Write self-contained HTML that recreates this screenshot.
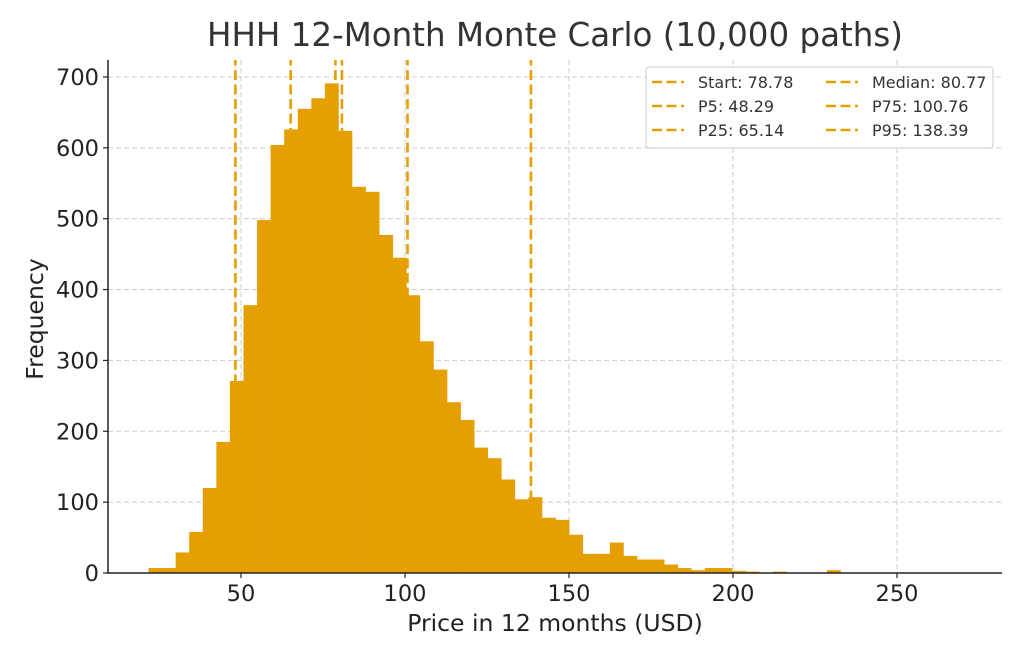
<!DOCTYPE html>
<html><head><meta charset="utf-8"><style>
body{margin:0;background:#fff;}
svg text{font-family:"DejaVu Sans","Liberation Sans",sans-serif;}
</style></head><body>
<svg id="chart" width="1024" height="658" viewBox="0 0 1024 658" xmlns="http://www.w3.org/2000/svg">
<g id="grid"></g>
<g id="bars"></g>
<g id="vlines"></g>
<g id="axes"></g>
<text x="555" y="46" font-size="32.5" fill="#333" text-anchor="middle">HHH 12-Month Monte Carlo (10,000 paths)</text>
<text x="555" y="631" font-size="23.5" fill="#222" text-anchor="middle">Price in 12 months (USD)</text>
<text x="43" y="319" font-size="23.5" fill="#222" text-anchor="middle" transform="rotate(-90 43 319)">Frequency</text>
<g id="legend"></g>
</svg>
<script>
const binStart = 21.8;
const binWidth = 4.137;
const counts = [7,7,29,58,120,185,271,378,498,604,626,655,670,691,624,545,538,477,445,392,327,287,241,216,177,162,132,104,107,78,75,54,27,27,43,24,19,19,12,7,4,7,7,3,2,0,2,0,0,0,4];
const xTicks = [50,100,150,200,250];
const yTicks = [0,100,200,300,400,500,600,700];
const lineLabels = ["Start: 78.78","Median: 80.77","P5: 48.29","P75: 100.76","P25: 65.14","P95: 138.39"];
const lineValues = [78.78,80.77,48.29,100.76,65.14,138.39];

const NS="http://www.w3.org/2000/svg";
const L=108,R=1002,T=60,B=573;
const xs=v=>77+v*3.28;
const ys=v=>573-v*0.7086;
function mk(tag,attrs,parent){const e=document.createElementNS(NS,tag);for(const k in attrs)e.setAttribute(k,attrs[k]);document.getElementById(parent).appendChild(e);return e;}
const C="#E69F00";
xTicks.forEach(t=>{const e=mk('line',{x1:xs(t),x2:xs(t),y1:T,y2:B,stroke:'#ccc','stroke-dasharray':'5,3','stroke-width':1},'grid');

});
yTicks.forEach(t=>{const e=mk('line',{x1:L,x2:R,y1:ys(t),y2:ys(t),stroke:'#ccc','stroke-dasharray':'5,3','stroke-width':1},'grid');

});
counts.forEach((c,i)=>{if(!c)return;const x0=xs(binStart+i*binWidth),x1=xs(binStart+(i+1)*binWidth);
const e=mk('rect',{x:x0,y:ys(c),width:x1-x0+0.3,height:B-ys(c),fill:C},'bars');

});
lineValues.forEach(v=>{const e=mk('line',{x1:xs(v),x2:xs(v),y1:B,y2:T,stroke:C,'stroke-width':2.6,'stroke-dasharray':'10,4.5'},'vlines');

});
let e=mk('path',{d:`M${L},${T}V${B}H${R}`,fill:'none',stroke:'#222','stroke-width':1.5},'axes');


xTicks.forEach(t=>{mk('line',{x1:xs(t),x2:xs(t),y1:B,y2:B+5,stroke:'#222','stroke-width':1.2},'axes');
const tx=mk('text',{x:xs(t),y:B+28,'font-size':22.5,fill:'#222','text-anchor':'middle'},'axes');tx.textContent=t;

});
yTicks.forEach(t=>{mk('line',{x1:L-5,x2:L,y1:ys(t),y2:ys(t),stroke:'#222','stroke-width':1.2},'axes');
const tx=mk('text',{x:L-9,y:ys(t)+8,'font-size':22.5,fill:'#222','text-anchor':'end'},'axes');tx.textContent=t;

});
e=mk('rect',{x:646,y:67,width:347,height:81,rx:3,fill:'#fff','fill-opacity':0.85,stroke:'#ccc'},'legend');


lineLabels.forEach((s,i)=>{const col=i%2,row=Math.floor(i/2);const lx=col?826:652,y=82+row*24;
mk('line',{x1:lx,x2:lx+32,y1:y,y2:y,stroke:C,'stroke-width':2.6,'stroke-dasharray':'10,4.5'},'legend');
const tx=mk('text',{x:lx+46,y:y+6,'font-size':16,fill:'#333'},'legend');tx.textContent=s;

});
</script>
</body></html>
